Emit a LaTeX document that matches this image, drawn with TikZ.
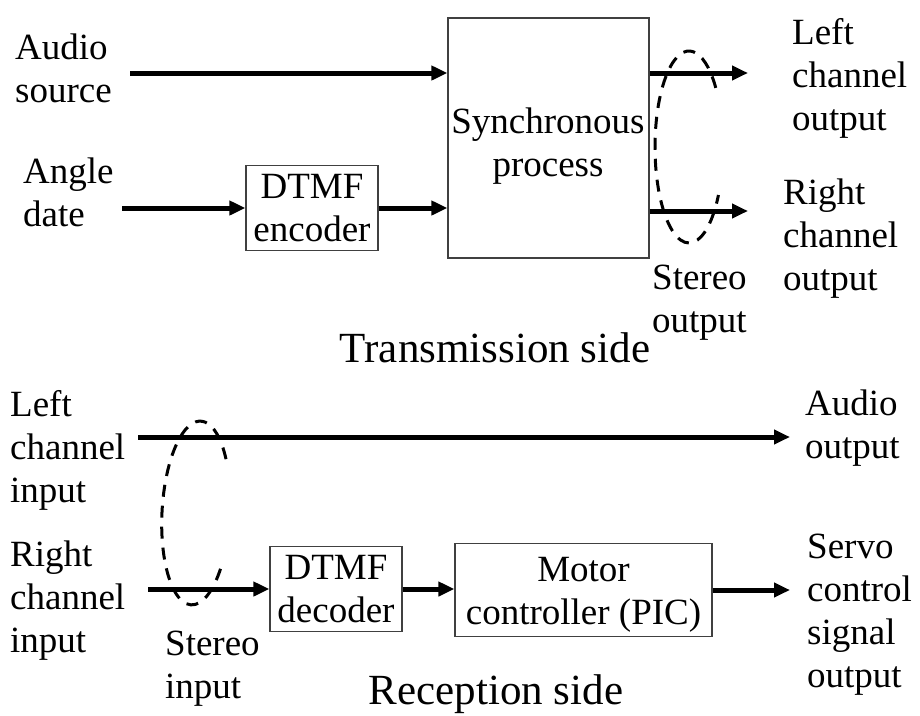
\documentclass[tikz,border=0pt]{standalone}
\usepackage{fontspec}
\setmainfont{Liberation Serif}
\usetikzlibrary{arrows.meta}
\begin{document}
\begin{tikzpicture}[x=1pt,y=-1pt,
  txt/.style={font=\fontsize{37}{43}\selectfont, align=left, inner sep=0pt},
  title/.style={font=\fontsize{43}{50}\selectfont, inner sep=0pt},
  arr/.style={line width=5pt, -{Triangle[length=16pt,width=14pt]}},
  blk/.style={draw=black!75, line width=1.2pt, inner sep=0pt, align=center,
              font=\fontsize{37}{43}\selectfont},
  inblk/.style={font=\fontsize{37}{43}\selectfont, align=center, inner sep=0pt},
  stereo/.style={line width=3pt, dash pattern=on 12pt off 9pt}]
\useasboundingbox (0,0) rectangle (920,715);

% ---------------- Transmission side ----------------
\node[blk, minimum width=201pt, minimum height=240pt] (sync) at (548.5,138) {};
\node[inblk] (syncTxt) at (548,146) {Synchronous\\process};
\node[blk, minimum width=132pt, minimum height=85pt] (enc) at (312,208) {DTMF\\encoder};

\node[txt, anchor=west] (audioSrc) at (15,68) {Audio\\source};
\node[txt, anchor=west] (angle) at (23,192) {Angle\\date};
\node[txt, anchor=west] (leftOut) at (792,78) {Left\\channel\\output};
\node[txt, anchor=west] (rightOut) at (783,239) {Right\\channel\\output};
\node[txt, anchor=west] (stOut) at (652,303) {Stereo\\output};
\node[title, anchor=base] (tx) at (495,362) {Transmission side};

\coordinate (aIn) at (130,73);
\coordinate (angIn) at (122,208);
\coordinate (lOut) at (748,73);
\coordinate (rOut) at (748,211);
\draw[arr] (aIn) -- (aIn -| sync.west);
\draw[arr] (angIn) -- (enc.west);
\draw[arr] (enc.east) -- (enc.east -| sync.west);
\draw[arr] (lOut -| sync.east) -- (lOut);
\draw[arr] (rOut -| sync.east) -- (rOut);

% stereo pair marker (open dashed ellipse)
\coordinate (stT) at (689,147);
\draw[stereo] ([shift={(-38:34 and 96)}]stT) arc[start angle=-38, end angle=-330, x radius=34, y radius=96];

% ---------------- Reception side ----------------
\node[blk, minimum width=132pt, minimum height=85pt] (dec) at (336,589) {DTMF\\decoder};
\node[blk, minimum width=257pt, minimum height=93pt] (mot) at (583.5,590) {};
\node[inblk] (motTxt) at (583.5,595) {Motor\\controller (PIC)};

\node[txt, anchor=west] (leftIn) at (10,450) {Left\\channel\\input};
\node[txt, anchor=west] (rightIn) at (10,601) {Right\\channel\\input};
\node[txt, anchor=west] (audioOut) at (805,428) {Audio\\output};
\node[txt, anchor=west] (servo) at (807,615) {Servo\\control\\signal\\output};
\node[txt, anchor=west] (stIn) at (165,669) {Stereo\\input};
\node[title, anchor=base] (rx) at (496,704) {Reception side};

\coordinate (lIn) at (138,437);
\coordinate (aOut) at (790,437);
\coordinate (rIn) at (148,589);
\coordinate (sOut) at (790,590);
\draw[arr] (lIn) -- (aOut);
\draw[arr] (rIn) -- (dec.west);
\draw[arr] (dec.east) -- (dec.east -| mot.west);
\draw[arr] (mot.east) -- (sOut);

\coordinate (stR) at (196,513);
\draw[stereo, rotate around={-3:(stR)}] ([shift={(-37:34 and 92)}]stR) arc[start angle=-37, end angle=-327, x radius=34, y radius=92];
\end{tikzpicture}
\end{document}
